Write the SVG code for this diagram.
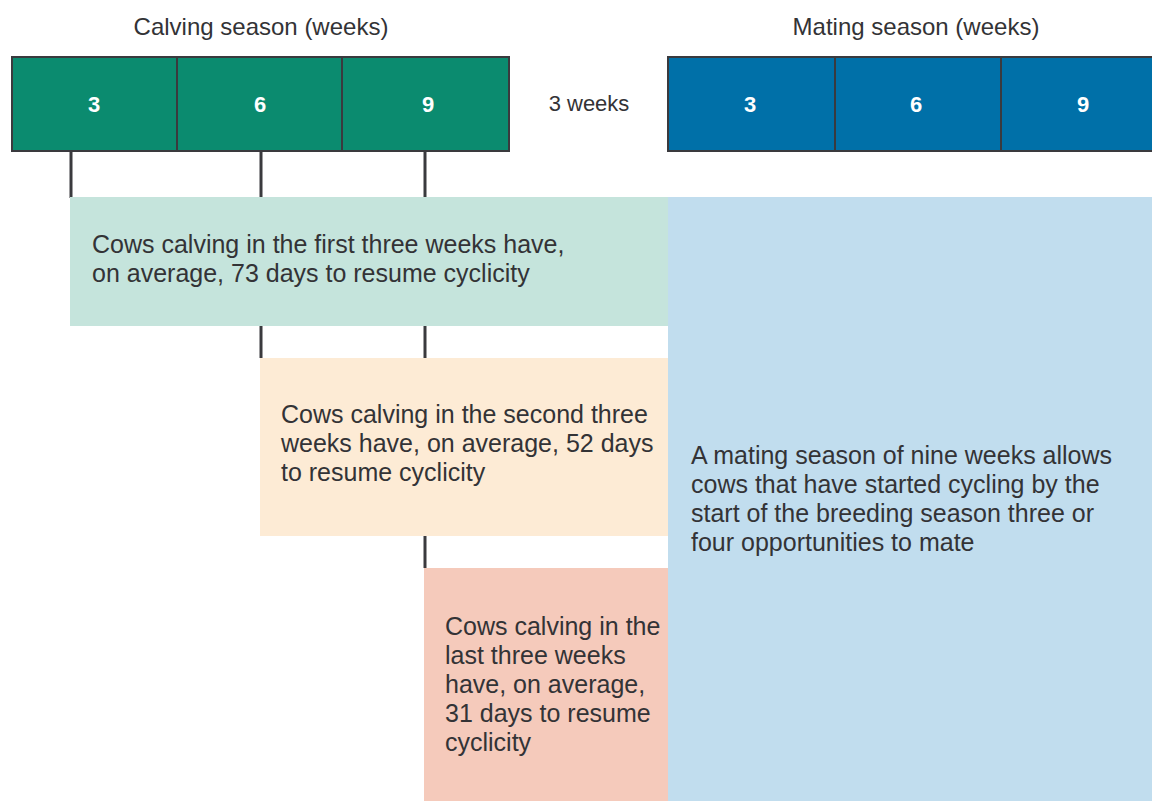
<svg xmlns="http://www.w3.org/2000/svg" width="1152" height="801" viewBox="0 0 1152 801">
<style>
.t{font-family:"Liberation Sans",Arial,sans-serif;font-size:25px;fill:#333336}
.hd{font-size:24px}
.n{font-family:"Liberation Sans",Arial,sans-serif;font-size:22px;font-weight:bold;fill:#ffffff;text-anchor:middle}
.h{text-anchor:middle}
.bar{stroke:#3a3a3e;stroke-width:2}
.tick{stroke:#3a3a3e;stroke-width:3;fill:none}
</style>
<rect width="1152" height="801" fill="#ffffff"/>
<g id="connectors">
<path class="tick" d="M71 152V198M261 152V198M425 152V198M261 326V358M425 326V358M425 536V568"/>
</g>
<g id="calving-bar">
<text class="t hd h" x="261" y="35">Calving season (weeks)</text>
<rect class="bar" x="12" y="57" width="497" height="94" fill="#0b8b6f"/>
<path class="bar" d="M177 57V151M342 57V151"/>
<text class="n" x="94" y="112">3</text>
<text class="n" x="260" y="112">6</text>
<text class="n" x="428" y="112">9</text>
</g>
<g id="gap">
<text class="t h" x="589" y="111" style="font-size:22px">3 weeks</text>
</g>
<g id="mating-bar">
<text class="t hd h" x="916" y="35">Mating season (weeks)</text>
<rect class="bar" x="668" y="57" width="500" height="94" fill="#0070a8"/>
<path class="bar" d="M835 57V151M1001 57V151"/>
<text class="n" x="750" y="112">3</text>
<text class="n" x="916" y="112">6</text>
<text class="n" x="1083" y="112">9</text>
</g>
<g id="mating-box">
<rect x="668" y="197" width="484" height="604" fill="#c1ddee"/>
<text class="t" x="691" y="464">A mating season of nine weeks allows</text>
<text class="t" x="691" y="493">cows that have started cycling by the</text>
<text class="t" x="691" y="522">start of the breeding season three or</text>
<text class="t" x="691" y="551">four opportunities to mate</text>
</g>
<g id="first-three">
<rect x="70" y="197" width="598" height="129" fill="#c5e4dc"/>
<text class="t" x="92" y="253">Cows calving in the first three weeks have,</text>
<text class="t" x="92" y="282">on average, 73 days to resume cyclicity</text>
</g>
<g id="second-three">
<rect x="260" y="358" width="408" height="178" fill="#fdebd5"/>
<text class="t" x="281" y="423">Cows calving in the second three</text>
<text class="t" x="281" y="452">weeks have, on average, 52 days</text>
<text class="t" x="281" y="481">to resume cyclicity</text>
</g>
<g id="last-three">
<rect x="424" y="568" width="244" height="233" fill="#f5cabb"/>
<text class="t" x="445" y="635">Cows calving in the</text>
<text class="t" x="445" y="664">last three weeks</text>
<text class="t" x="445" y="693">have, on average,</text>
<text class="t" x="445" y="722">31 days to resume</text>
<text class="t" x="445" y="751">cyclicity</text>
</g>
</svg>
